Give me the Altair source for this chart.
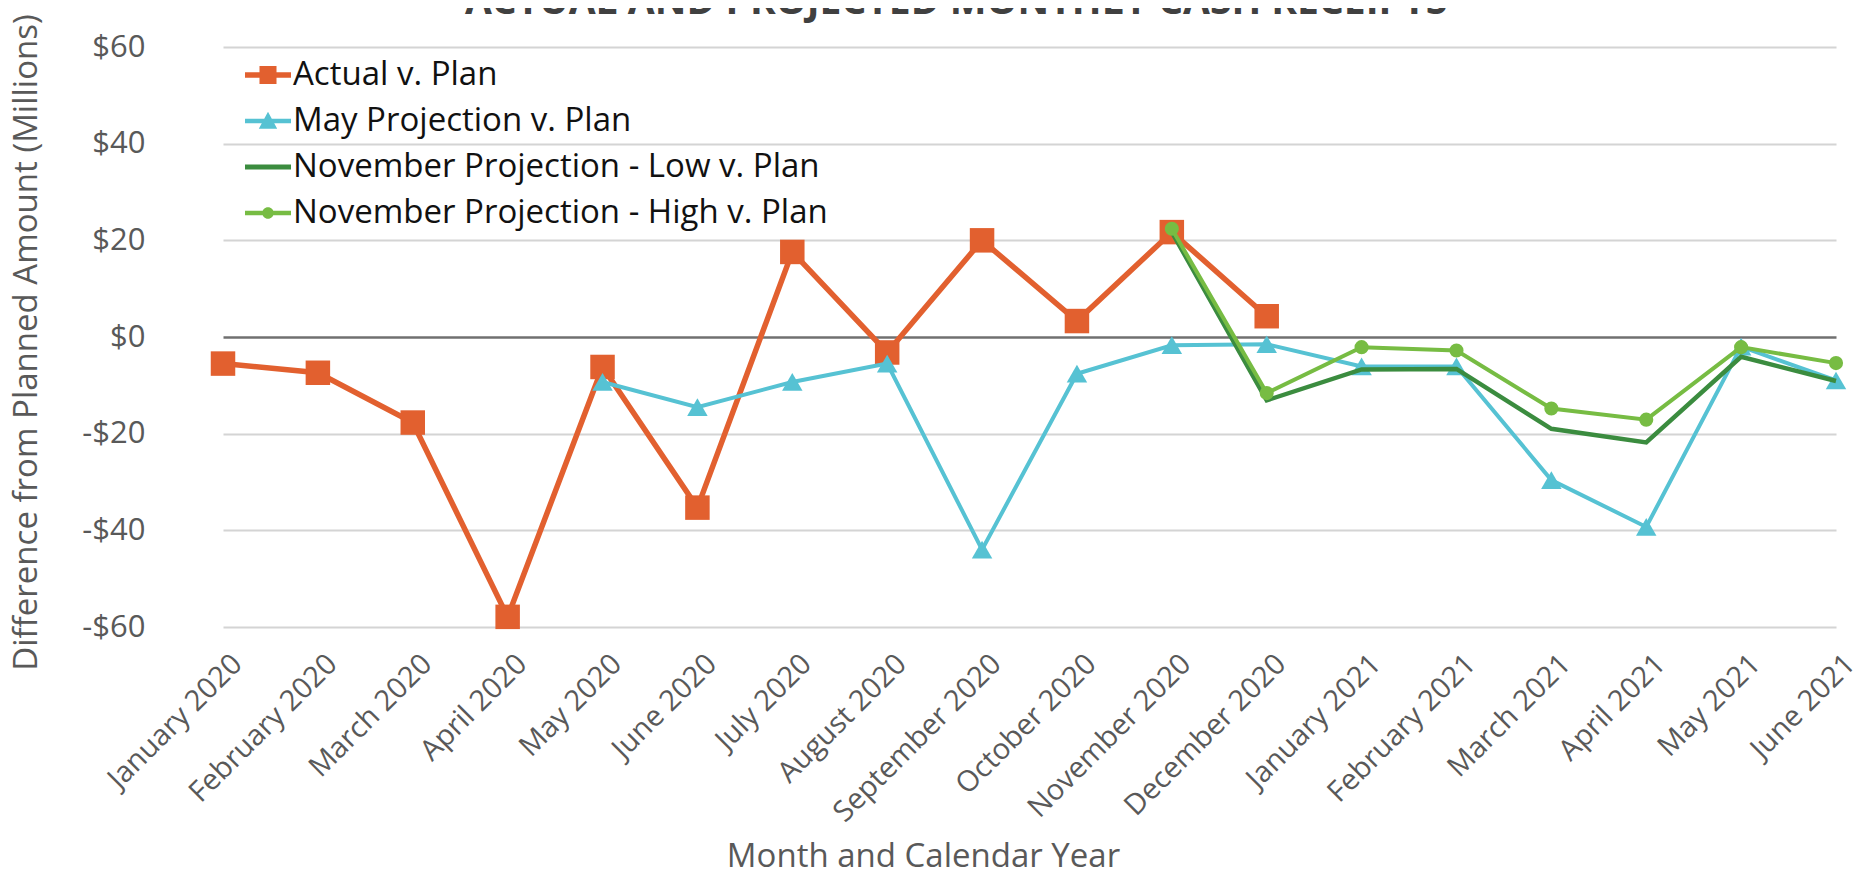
import altair as alt
import pandas as pd

months = ["January 2020", "February 2020", "March 2020", "April 2020", "May 2020",
          "June 2020", "July 2020", "August 2020", "September 2020", "October 2020",
          "November 2020", "December 2020", "January 2021", "February 2021",
          "March 2021", "April 2021", "May 2021", "June 2021"]

# Actual v. Plan: January 2020 .. December 2020
actual = [-5.5, -7.4, -17.7, -57.9, -6.2, -35.3, 17.6, -3.2, 20.0, 3.3, 21.7, 4.3]
# May Projection v. Plan: May 2020 .. June 2021
may_proj = [-9.3, -14.5, -9.3, -5.5, -44.0, -7.6, -1.7, -1.5, -6.1, -6.1, -29.6, -39.3, -2.0, -9.0]
# November Projection Low / High: November 2020 .. June 2021
nov_low = [21.7, -13.1, -6.7, -6.6, -19.0, -21.8, -4.1, -9.1]
nov_high = [22.4, -11.6, -2.1, -2.8, -14.8, -17.1, -2.1, -5.4]

series_names = ["Actual v. Plan", "May Projection v. Plan",
                "November Projection - Low v. Plan", "November Projection - High v. Plan"]
colors = ["#E2602F", "#56C2D3", "#3B8C3F", "#77BC43"]
y_ticks = [-60, -40, -20, 0, 20, 40, 60]
chart_title = "ACTUAL AND PROJECTED MONTHLY CASH RECEIPTS"

rows = []
for m, v in zip(months[0:12], actual):
    rows.append({"month": m, "value": v, "series": series_names[0]})
for m, v in zip(months[4:], may_proj):
    rows.append({"month": m, "value": v, "series": series_names[1]})
for m, v in zip(months[10:], nov_low):
    rows.append({"month": m, "value": v, "series": series_names[2]})
for m, v in zip(months[10:], nov_high):
    rows.append({"month": m, "value": v, "series": series_names[3]})
df = pd.DataFrame(rows)

FONT = "Open Sans"
GRAY = "#595959"

x_enc = alt.X(
    "month:O", sort=months,
    scale=alt.Scale(type="point", domain=months, range=[47, 1660], padding=0),
    axis=alt.Axis(
        title="Month and Calendar Year", labelAngle=-45, labelAlign="right",
        labelBaseline="top", labelPadding=22, labelOffset=4, labelLimit=0,
        labelFontSize=29, labelFont=FONT, labelColor=GRAY,
        domain=False, ticks=False, grid=False,
        titleFont=FONT, titleFontSize=33, titleColor=GRAY, titleFontWeight="normal",
        titleX=747, titleY=239, titleAlign="center", titleBaseline="alphabetic",
    ),
)
y_enc = alt.Y(
    "value:Q",
    scale=alt.Scale(domain=[-60, 60], nice=False, zero=False),
    axis=alt.Axis(
        values=y_ticks,
        labelExpr="datum.value < 0 ? '-$' + abs(datum.value) : '$' + datum.value",
        labelFontSize=31, labelFont=FONT, labelColor=GRAY, labelPadding=31,
        domain=False, ticks=False,
        gridColor={"condition": {"test": "datum.value === 0", "value": "#707070"}, "value": "#D4D4D4"},
        gridWidth={"condition": {"test": "datum.value === 0", "value": 2.5}, "value": 2},
        title="Difference from Planned Amount (Millions)",
        titleFont=FONT, titleFontSize=33, titleColor=GRAY, titleFontWeight="normal",
        titleX=-150, titleY=295, titleAngle=270, titleAlign="center", titleBaseline="middle",
    ),
)
color_scale = alt.Scale(domain=series_names, range=colors)
color_nolegend = alt.Color("series:N", scale=color_scale, legend=None)

base = alt.Chart(df)

layers = []
line_widths = [5.5, 4, 4.5, 4]
marker = [("square", 600), ("triangle-up", 420), None, ("circle", 200)]
for name, lw, mk in zip(series_names, line_widths, marker):
    sub = base.transform_filter(alt.datum.series == name)
    layers.append(sub.mark_line(strokeWidth=lw).encode(x=x_enc, y=y_enc, color=color_nolegend))
    if mk is not None:
        layers.append(sub.mark_point(shape=mk[0], size=mk[1], filled=True, opacity=1).encode(
            x=x_enc, y=y_enc, color=color_nolegend))

# legend-only layer (points placed off the visible scale and clipped)
legend_shapes = [
    "M-1,-0.12L1,-0.12L1,0.12L-1,0.12Z M-0.37,-0.39L0.37,-0.39L0.37,0.39L-0.37,0.39Z",
    "M-1,-0.1L1,-0.1L1,0.1L-1,0.1Z M0,-0.4L0.4,0.34L-0.4,0.34Z",
    "M-1,-0.11L1,-0.11L1,0.11L-1,0.11Z",
    "M-1,-0.1L1,-0.1L1,0.1L-1,0.1Z M-0.25,0A0.25,0.25 0 1,1 0.25,0A0.25,0.25 0 1,1 -0.25,0Z",
]
leg = alt.Legend(orient="none", legendX=69, legendY=5, title=None, symbolSize=2116,
                 labelFontSize=33, labelFont=FONT, labelColor="#111111",
                 symbolStrokeWidth=0, rowPadding=6, labelOffset=2, padding=0, labelLimit=0)
leg_df = pd.DataFrame({"month": [months[0]] * 4, "value": [999] * 4, "series": series_names})
legend_layer = alt.Chart(leg_df).mark_point(filled=True, clip=True, opacity=1).encode(
    x=x_enc, y=y_enc,
    color=alt.Color("series:N", scale=color_scale, legend=leg),
    shape=alt.Shape("series:N", scale=alt.Scale(domain=series_names, range=legend_shapes), legend=leg),
)
layers.append(legend_layer)

title_layer = alt.Chart(pd.DataFrame({"t": [chart_title]})).mark_text(
    font=FONT, fontSize=39, fontWeight="bold", color="#404040", align="center", baseline="alphabetic"
).encode(text="t:N", x=alt.value(780), y=alt.value(-33))
layers.append(title_layer)

chart = alt.layer(*layers).resolve_legend(
    color="independent", shape="independent"
).properties(
    width=1690, height=580,
    padding={"left": 168, "top": 39, "right": 0, "bottom": 240},
    autosize=alt.AutoSizeParams(type="none"),
    background="white",
).configure_view(stroke=None)

chart.save("out.html", embed_options={"renderer": "svg", "actions": False})
